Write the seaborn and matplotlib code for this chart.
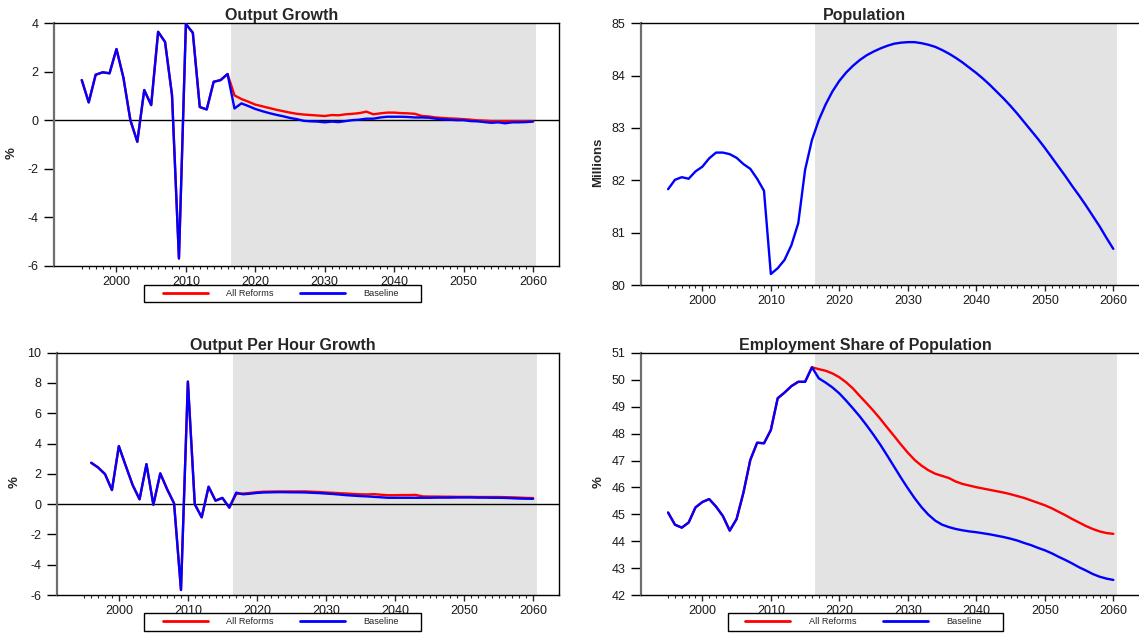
import numpy as np
import pandas as pd
import matplotlib
matplotlib.use("Agg")
import matplotlib.pyplot as plt
from matplotlib.lines import Line2D
from matplotlib.patches import Rectangle
from matplotlib.ticker import FixedLocator, MultipleLocator
import seaborn as sns

# ---------------- data ----------------
years = list(range(1995, 2061))
years_oph = list(range(1996, 2061))

growth_baseline = [
    1.66, 0.74, 1.88, 1.98, 1.94, 2.94, 1.76, 0.01, -0.88, 1.25, 0.63, 3.65, 3.23, 1.04, -5.69, 3.97,
    3.61, 0.55, 0.45, 1.59, 1.66, 1.91,
    0.49, 0.70, 0.59, 0.47, 0.38, 0.30, 0.23, 0.17, 0.10, 0.05, -0.02, -0.04, -0.05, -0.08,
    -0.05, -0.07, -0.03, 0.01, 0.03, 0.07, 0.07, 0.12, 0.15, 0.15, 0.15, 0.14, 0.12, 0.12,
    0.11, 0.07, 0.04, 0.03, 0.01, 0.01, -0.03, -0.04, -0.07, -0.10, -0.08, -0.12, -0.08,
    -0.08, -0.07, -0.05]
growth_reforms = [
    1.66, 0.74, 1.88, 1.98, 1.94, 2.94, 1.76, 0.01, -0.88, 1.25, 0.63, 3.65, 3.23, 1.04, -5.69, 3.97,
    3.61, 0.55, 0.45, 1.59, 1.66, 1.91,
    1.03, 0.88, 0.77, 0.65, 0.58, 0.51, 0.44, 0.38, 0.32, 0.27, 0.24, 0.22, 0.20, 0.18,
    0.22, 0.21, 0.25, 0.27, 0.30, 0.36, 0.25, 0.29, 0.32, 0.32, 0.30, 0.29, 0.27, 0.18,
    0.16, 0.12, 0.10, 0.08, 0.07, 0.05, 0.03, 0.00, -0.01, -0.03, -0.03, -0.03, -0.03,
    -0.03, -0.03, -0.03]

oph_baseline = [
    2.73, 2.42, 1.98, 0.93, 3.83, 2.53, 1.26, 0.32, 2.64, -0.04, 2.03, 0.98, 0.05, -5.67, 8.09,
    -0.01, -0.87, 1.15, 0.23, 0.41, -0.23,
    0.76, 0.65, 0.69, 0.74, 0.77, 0.78, 0.79, 0.79, 0.78, 0.78, 0.77, 0.75, 0.73, 0.70,
    0.67, 0.63, 0.59, 0.56, 0.53, 0.51, 0.48, 0.45, 0.42, 0.42, 0.42, 0.42, 0.42, 0.42,
    0.42, 0.43, 0.43, 0.43, 0.44, 0.44, 0.44, 0.43, 0.43, 0.42, 0.42, 0.41, 0.39, 0.37,
    0.36, 0.35]
oph_reforms = [
    2.73, 2.42, 1.98, 0.93, 3.83, 2.53, 1.26, 0.32, 2.64, -0.04, 2.03, 0.98, 0.05, -5.67, 8.09,
    -0.01, -0.87, 1.15, 0.23, 0.41, -0.23,
    0.67, 0.70, 0.74, 0.79, 0.82, 0.83, 0.84, 0.84, 0.84, 0.84, 0.84, 0.82, 0.80, 0.77,
    0.75, 0.72, 0.70, 0.67, 0.65, 0.64, 0.66, 0.62, 0.59, 0.59, 0.60, 0.60, 0.61, 0.51,
    0.50, 0.50, 0.49, 0.49, 0.48, 0.48, 0.48, 0.47, 0.47, 0.47, 0.47, 0.46, 0.45, 0.43,
    0.41, 0.40]

population = [
    81.83, 82.01, 82.06, 82.03, 82.17, 82.26, 82.42, 82.53, 82.53, 82.50, 82.43, 82.31, 82.22,
    82.03, 81.80, 80.21, 80.32, 80.48, 80.76, 81.18, 82.20, 82.77,
    83.15, 83.45, 83.70, 83.90, 84.06, 84.19, 84.30, 84.39, 84.46, 84.52, 84.57, 84.61,
    84.63, 84.64, 84.64, 84.62, 84.59, 84.55, 84.49, 84.42, 84.34, 84.25, 84.15, 84.05,
    83.94, 83.82, 83.69, 83.56, 83.42, 83.27, 83.11, 82.95, 82.79, 82.62, 82.44, 82.26,
    82.08, 81.89, 81.71, 81.52, 81.32, 81.12, 80.90, 80.69]

emp_baseline = [
    45.07, 44.62, 44.51, 44.70, 45.26, 45.46, 45.57, 45.29, 44.94, 44.40, 44.83, 45.81, 47.02,
    47.66, 47.64, 48.13, 49.31, 49.52, 49.76, 49.92, 49.92, 50.46,
    50.05, 49.89, 49.71, 49.49, 49.22, 48.93, 48.63, 48.30, 47.95, 47.58, 47.18, 46.77,
    46.36, 45.97, 45.60, 45.27, 44.99, 44.77, 44.62, 44.53, 44.46, 44.41, 44.37, 44.34,
    44.30, 44.26, 44.21, 44.16, 44.10, 44.03, 43.94, 43.86, 43.76, 43.67, 43.56, 43.43,
    43.31, 43.18, 43.04, 42.92, 42.79, 42.69, 42.62, 42.57]
emp_reforms = [
    45.07, 44.62, 44.51, 44.70, 45.26, 45.46, 45.57, 45.29, 44.94, 44.40, 44.83, 45.81, 47.02,
    47.66, 47.64, 48.13, 49.31, 49.52, 49.76, 49.92, 49.92, 50.46,
    50.39, 50.33, 50.23, 50.09, 49.90, 49.67, 49.39, 49.12, 48.84, 48.54, 48.22, 47.91,
    47.59, 47.29, 47.02, 46.81, 46.64, 46.51, 46.43, 46.35, 46.22, 46.13, 46.07, 46.01,
    45.96, 45.91, 45.86, 45.81, 45.75, 45.68, 45.61, 45.52, 45.43, 45.34, 45.23, 45.10,
    44.97, 44.83, 44.70, 44.57, 44.46, 44.37, 44.31, 44.28]

scenarios = ["All Reforms", "Baseline"]
palette = {"All Reforms": "#ff0000", "Baseline": "#0000ff"}
projection_span = (2016.5, 2060.5)

# ---------------- style ----------------
sns.set_style("ticks")
plt.rcParams["font.family"] = ["Liberation Sans", "DejaVu Sans"]
plt.rcParams["axes.linewidth"] = 1.0
plt.rcParams["axes.unicode_minus"] = False

W, H = 1139, 635
fig = plt.figure(figsize=(W / 100, H / 100), dpi=100)


def px_rect(x0, y0, x1, y1):
    return [x0 / W, 1 - y1 / H, (x1 - x0) / W, (y1 - y0) / H]


XLIM = (1991.0, 2063.75)


def make_long(x, series):
    frames = []
    for name, vals in series.items():
        frames.append(pd.DataFrame({"year": x, "value": vals, "scenario": name}))
    return pd.concat(frames, ignore_index=True)


def style_axes(ax, title, ylabel, ylim, ystep, zero_line, xlim, title_x=0.45, hide_right=False):
    ax.axvspan(*projection_span, color="#e3e3e3", zorder=0, lw=0)
    if zero_line:
        ax.axhline(0, color="black", lw=1.0, zorder=1)
    ax.set_xlim(*xlim)
    ax.set_ylim(*ylim)
    ax.yaxis.set_major_locator(MultipleLocator(ystep))
    ax.xaxis.set_major_locator(FixedLocator(list(range(2000, 2061, 10))))
    ax.xaxis.set_minor_locator(FixedLocator([y for y in range(1995, 2061) if y % 10]))
    ax.tick_params(axis="y", direction="out", length=7, width=1, pad=4.0,
                   labelsize=9, colors="black", labelcolor="#1a1a1a")
    ax.tick_params(axis="x", which="major", direction="out", length=4.5, width=1,
                   pad=2.5, labelsize=9, labelcolor="#1a1a1a")
    ax.tick_params(axis="x", which="minor", direction="out", length=2.5, width=0.8)
    for s in ["top", "right", "bottom"]:
        ax.spines[s].set_color("black")
        ax.spines[s].set_linewidth(1.0)
    ax.spines["left"].set_color("#6e6e6e")
    ax.spines["left"].set_linewidth(1.6)
    if hide_right:
        ax.spines["right"].set_visible(False)
    ax.set_title(title, x=title_x, pad=1.5, fontsize=11.5, fontweight="bold")
    ax.set_xlabel("")
    ax.set_ylabel(ylabel, fontsize=9.5, fontweight="bold", va="center")
    ax.yaxis.set_label_coords(-0.084, 0.467)


def add_legend(x0, y0, x1, y1):
    handles = [Line2D([], [], color=palette[s], lw=2.0) for s in scenarios]
    cx = (x0 + x1) / 2 / W - 2 / W
    cy = 1 - (y0 + y1) / 2 / H
    fig.legend(handles, scenarios, loc="center", bbox_to_anchor=(cx, cy),
               ncol=2, frameon=False, fontsize=6.6, handlelength=4.9,
               handletextpad=2.0, columnspacing=2.9, borderpad=0.2)
    fig.patches.append(Rectangle((x0 / W, 1 - y1 / H), (x1 - x0) / W, (y1 - y0) / H,
                                 transform=fig.transFigure, fill=False,
                                 edgecolor="black", lw=1.0))


lw = 1.7
RIGHT_XLIM = (XLIM[0], XLIM[1] + 3 / 6.85)

# Top-left: Output Growth
ax1 = fig.add_axes(px_rect(54, 23.3, 559, 266))
df1 = make_long(years, {"All Reforms": growth_reforms, "Baseline": growth_baseline})
sns.lineplot(data=df1, x="year", y="value", hue="scenario", hue_order=scenarios,
             palette=palette, estimator=None, lw=lw, legend=False, ax=ax1, zorder=3)
style_axes(ax1, "Output Growth", "%", (-6, 4), 2, True, XLIM)

# Bottom-left: Output Per Hour Growth
ax3 = fig.add_axes(px_rect(56.7, 352.7, 559, 595))
df3 = make_long(years_oph, {"All Reforms": oph_reforms, "Baseline": oph_baseline})
sns.lineplot(data=df3, x="year", y="value", hue="scenario", hue_order=scenarios,
             palette=palette, estimator=None, lw=lw, legend=False, ax=ax3, zorder=3)
style_axes(ax3, "Output Per Hour Growth", "%", (-6, 10), 2, True, XLIM)

# Top-right: Population
ax2 = fig.add_axes(px_rect(640.7, 23.3, 1139 + 3, 285))
df2 = pd.DataFrame({"year": years, "value": population})
sns.lineplot(data=df2, x="year", y="value", color=palette["Baseline"], estimator=None,
             lw=lw, ax=ax2, zorder=3)
style_axes(ax2, "Population", "Millions", (80, 85), 1, False, RIGHT_XLIM,
           title_x=0.45 * 498.3 / 501.3, hide_right=True)

# Bottom-right: Employment Share of Population
ax4 = fig.add_axes(px_rect(640.7, 352.7, 1139 + 3, 595.3))
df4 = make_long(years, {"All Reforms": emp_reforms, "Baseline": emp_baseline})
sns.lineplot(data=df4, x="year", y="value", hue="scenario", hue_order=scenarios,
             palette=palette, estimator=None, lw=lw, legend=False, ax=ax4, zorder=3)
style_axes(ax4, "Employment Share of Population", "%", (42, 51), 1, False, RIGHT_XLIM,
           title_x=0.45 * 498.3 / 501.3, hide_right=True)

add_legend(144.3, 284.7, 421, 302)
add_legend(144.3, 613.3, 421, 630.7)
add_legend(727.7, 613.3, 1003.3, 630.5)

fig.savefig("out.png", dpi=100)
